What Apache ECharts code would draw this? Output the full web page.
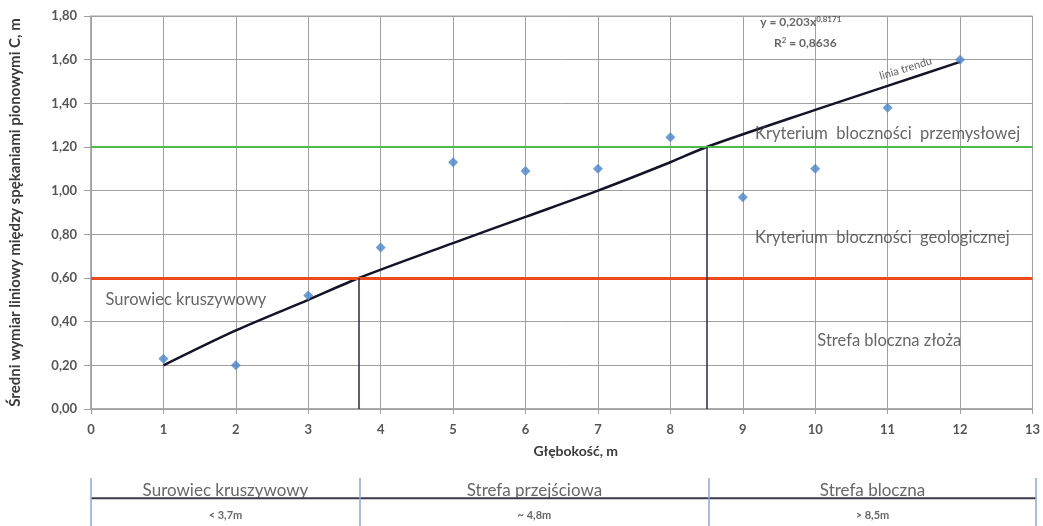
<!DOCTYPE html>
<html><head><meta charset="utf-8">
<script src="https://cdn.jsdelivr.net/npm/echarts@6/dist/echarts.min.js"></script>
<style>html,body{margin:0;padding:0;background:#fff}#c{width:1043px;height:526px}</style>
</head><body><div id="c"></div>
<script>
// ---- data ----
const depths = [1, 2, 3, 4, 5, 6, 7, 8, 9, 10, 11, 12];
const blockSize = [0.23, 0.20, 0.52, 0.74, 1.13, 1.09, 1.10, 1.245, 0.97, 1.10, 1.38, 1.60];
const trendX = [1, 2, 3, 3.7, 5, 6, 7, 8, 8.5, 10, 11, 12];
const trendY = [0.20, 0.36, 0.50, 0.60, 0.76, 0.88, 1.00, 1.13, 1.20, 1.37, 1.48, 1.59];
const industrialCriterion = 1.20;
const geologicalCriterion = 0.60;
const crossingDepths = [3.7, 8.5];
const zoneBounds = [0, 3.7, 8.5, 13];
const zoneNames = ['Surowiec kruszywowy', 'Strefa przejściowa', 'Strefa bloczna'];
const zoneRanges = ['< 3,7m', '~ 4,8m', '> 8,5m'];
const bigNotes = [
  { text: 'Kryterium  bloczności  przemysłowej', x: 9.17, y: 1.262 },
  { text: 'Kryterium  bloczności  geologicznej', x: 9.17, y: 0.785 },
  { text: 'Surowiec kruszywowy', x: 0.2, y: 0.50 },
  { text: 'Strefa bloczna złoża', x: 10.03, y: 0.315 }
];
const formulaNotes = [
  { text: 'y = 0,203x{sup|0,8171}', x: 9.24, y: 1.77 },
  { text: 'R{sup|2} = 0,8636', x: 9.43, y: 1.675 }
];
const trendLabel = { text: 'linia trendu', x: 11.25, y: 1.56 };

const FONT = 'Lato, "Open Sans", sans-serif';
const TXT = '#404040';
const chart = echarts.init(document.getElementById('c'), null, { renderer: 'canvas' });
const fmt = v => v.toFixed(2).replace('.', ',');

const bandLineY = 0.58;
const option = {
  animation: false,
  backgroundColor: '#fff',
  textStyle: { fontFamily: FONT },
  grid: [
    { left: 91, right: 7, top: 16, bottom: 117, show: true, borderColor: '#a0a0a0', borderWidth: 1 },
    { left: 91, right: 7, top: 478, bottom: 0 }
  ],
  xAxis: [
    {
      gridIndex: 0, type: 'value', min: 0, max: 13, interval: 1,
      name: 'Głębokość, m', nameLocation: 'middle', nameGap: 35,
      nameTextStyle: { fontFamily: FONT, fontWeight: 'bold', fontSize: 14, color: '#3a3a3a', padding: [0, 0, 0, 28] },
      axisLine: { onZero: false, lineStyle: { color: '#a0a0a0', width: 1.5 } },
      axisTick: { show: true, length: 5, lineStyle: { color: '#a0a0a0' } },
      axisLabel: { fontFamily: FONT, fontWeight: 'bold', fontSize: 13, color: '#555', margin: 14 },
      splitLine: { show: true, lineStyle: { color: '#a0a0a0', width: 1 } }
    },
    { gridIndex: 1, type: 'value', min: 0, max: 13, show: false }
  ],
  yAxis: [
    {
      gridIndex: 0, type: 'value', min: 0, max: 1.8, interval: 0.2,
      name: 'Średni wymiar liniowy między spękaniami pionowymi C, m',
      nameLocation: 'middle', nameGap: 68, nameRotate: 90,
      nameTextStyle: { fontFamily: FONT, fontWeight: 'bold', fontSize: 15, color: '#3a3a3a' },
      axisLine: { show: true, lineStyle: { color: '#a0a0a0', width: 1.5 } },
      axisTick: { show: true, length: 7, lineStyle: { color: '#a0a0a0' } },
      axisLabel: { fontFamily: FONT, fontWeight: 'bold', fontSize: 13, color: '#555', margin: 14, formatter: fmt },
      splitLine: { show: true, lineStyle: { color: '#a0a0a0', width: 1 } }
    },
    { gridIndex: 1, type: 'value', min: 0, max: 1, show: false }
  ],
  series: [
    {
      name: 'criteria', type: 'line', xAxisIndex: 0, yAxisIndex: 0, data: [],
      markLine: {
        silent: true, symbol: 'none', label: { show: false },
        data: [
          { yAxis: industrialCriterion, lineStyle: { color: '#4cbb4c', width: 2, type: 'solid' } },
          { yAxis: geologicalCriterion, lineStyle: { color: '#ee4a1c', width: 3, type: 'solid' } },
          ...crossingDepths.map((d, i) => [
            { coord: [d, 0], lineStyle: { color: '#2a2a45', width: 1.5, type: 'solid' } },
            { coord: [d, i === 0 ? geologicalCriterion : industrialCriterion] }
          ])
        ]
      }
    },
    {
      name: 'trend', type: 'line', xAxisIndex: 0, yAxisIndex: 0,
      data: trendX.map((x, i) => [x, trendY[i]]),
      smooth: 0.3, showSymbol: false, symbol: 'none',
      lineStyle: { color: '#141428', width: 2.5 }, z: 4
    },
    {
      name: 'C', type: 'scatter', xAxisIndex: 0, yAxisIndex: 0,
      data: depths.map((x, i) => [x, blockSize[i]]),
      symbol: 'diamond', symbolSize: 10,
      itemStyle: { color: '#4a84c8' }, z: 5
    },
    {
      name: 'notes', type: 'scatter', xAxisIndex: 0, yAxisIndex: 0,
      symbolSize: 0, silent: true, z: 6,
      data: bigNotes.map(a => ({ value: [a.x, a.y], name: a.text })),
      label: {
        show: true, position: 'inside', align: 'left', formatter: p => p.name,
        fontFamily: FONT, fontSize: 16.5, color: TXT
      }
    },
    {
      name: 'formula', type: 'scatter', xAxisIndex: 0, yAxisIndex: 0,
      symbolSize: 0, silent: true, z: 6,
      data: formulaNotes.map(a => ({ value: [a.x, a.y], name: a.text })),
      label: {
        show: true, position: 'inside', align: 'left', formatter: p => p.name,
        fontFamily: FONT, fontSize: 12, fontWeight: 'bold', color: TXT,
        rich: { sup: { fontSize: 8, fontWeight: 'bold', verticalAlign: 'top', color: TXT, fontFamily: FONT, padding: [0, 0, 6, 0] } }
      }
    },
    {
      name: 'trendLabel', type: 'scatter', xAxisIndex: 0, yAxisIndex: 0,
      symbolSize: 0, silent: true, z: 6,
      data: [{ value: [trendLabel.x, trendLabel.y], name: trendLabel.text }],
      label: { show: true, position: 'inside', formatter: p => p.name, rotate: 17, fontFamily: FONT, fontSize: 11, color: '#333' }
    },
    // bottom zone band
    {
      name: 'bandLine', type: 'line', xAxisIndex: 1, yAxisIndex: 1,
      data: [[zoneBounds[0], bandLineY], [zoneBounds[zoneBounds.length - 1], bandLineY]],
      symbol: 'none', lineStyle: { color: '#3a3a4a', width: 2 },
      markLine: {
        silent: true, symbol: 'none', label: { show: false },
        lineStyle: { color: '#8da9d4', width: 1.5, type: 'solid' },
        data: zoneBounds.map(b => ({ xAxis: b }))
      }
    },
    {
      name: 'zoneNames', type: 'scatter', xAxisIndex: 1, yAxisIndex: 1, symbolSize: 0, silent: true,
      data: zoneNames.map((n, i) => ({ value: [(zoneBounds[i] + zoneBounds[i + 1]) / 2, 0.74], name: n })),
      label: { show: true, position: 'inside', formatter: p => p.name, fontFamily: FONT, fontSize: 17, color: TXT }
    },
    {
      name: 'zoneRanges', type: 'scatter', xAxisIndex: 1, yAxisIndex: 1, symbolSize: 0, silent: true,
      data: zoneRanges.map((n, i) => ({ value: [(zoneBounds[i] + zoneBounds[i + 1]) / 2, 0.22], name: n })),
      label: { show: true, position: 'inside', formatter: p => p.name, fontFamily: FONT, fontSize: 11, fontWeight: 'bold', color: TXT }
    }
  ]
};
chart.setOption(option);
</script>
</body></html>
